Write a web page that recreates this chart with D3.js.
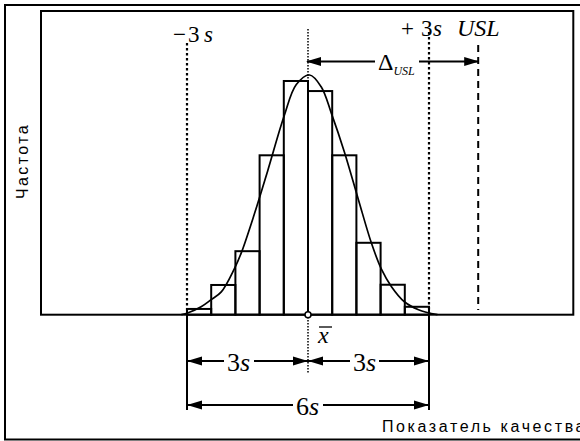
<!DOCTYPE html>
<html>
<head>
<meta charset="utf-8">
<script src="https://cdn.jsdelivr.net/npm/d3@7"></script>
<style>
  body { margin: 0; background: #fff; }
  svg { display: block; }
</style>
</head>
<body>
<div id="chart"></div>
<script>
// Histogram bins (in units of s from the mean) and frequencies
var binStart = [-3, -2.4, -1.8, -1.2, -0.6, 0, 0.6, 1.2, 1.8, 2.4];
var binWidth = 0.6;
var freq = [2.4, 12.4, 26.5, 66.5, 97.5, 93.3, 66.5, 30, 12.5, 3.3];

// Fitted curve
var curveX = [-3.14, -2.97, -2.65, -2.4, -2.15, -1.83, -1.65, -1.33, -1.0, -0.59, -0.29, 0.04, 0.33, 0.58, 0.9, 1.25, 1.57, 1.82, 2.07, 2.39, 2.74, 3.21];
var curveY = [0, 0.8, 3.3, 6.3, 9.5, 19, 26, 42, 60, 83, 96, 100, 95, 84, 68, 48, 30, 19, 11.7, 5.4, 2.1, 0];

// Reference lines
var lowerLimit = -3, mean = 0, upperLimit = 3, usl = 4.22;

var width = 580, height = 441;

var svg = d3.select("#chart")
    .append("svg")
    .attr("width", width)
    .attr("height", height);

var x = d3.scaleLinear().domain([-3, 3]).range([187, 429]);
var y = d3.scaleLinear().domain([0, 100]).range([314.7, 75]);

var ink = "#000";

// outer frame
svg.append("rect")
    .attr("x", 5).attr("y", 5)
    .attr("width", 580).attr("height", 434.5)
    .attr("fill", "none").attr("stroke", ink).attr("stroke-width", 2);

// inner plot box
svg.append("rect")
    .attr("x", 41).attr("y", 11)
    .attr("width", 532.3).attr("height", y(0) - 11)
    .attr("fill", "none").attr("stroke", ink).attr("stroke-width", 2);

// histogram bars
svg.selectAll("rect.bar")
    .data(freq)
    .enter()
    .append("rect")
    .attr("class", "bar")
    .attr("x", (d, i) => x(binStart[i]))
    .attr("y", d => y(d))
    .attr("width", x(binWidth) - x(0))
    .attr("height", d => y(0) - y(d))
    .attr("fill", "none")
    .attr("stroke", ink)
    .attr("stroke-width", 2);

// curve
var line = d3.line()
    .x((d, i) => x(curveX[i]))
    .y(d => y(d))
    .curve(d3.curveCatmullRom);

svg.append("path")
    .attr("d", line(curveY))
    .attr("fill", "none")
    .attr("stroke", ink)
    .attr("stroke-width", 1.7);

// vertical reference lines
function vline(xv, y1, y2, dash, w) {
    svg.append("line")
        .attr("x1", x(xv)).attr("x2", x(xv))
        .attr("y1", y1).attr("y2", y2)
        .attr("stroke", ink)
        .attr("stroke-width", w)
        .attr("stroke-dasharray", dash);
}
vline(lowerLimit, 43, y(0), "2.5,2.5", 2.2);
vline(upperLimit, 32, y(0), "2.5,2.5", 2.2);
vline(mean, 29, 373, "1.5,1.5", 1.5);
vline(usl, 45, 310, "7,5", 2);

// dimension lines below the axis
vline(lowerLimit, y(0), 410, null, 2);
vline(upperLimit, y(0), 410, null, 2);

// mean marker
svg.append("circle")
    .attr("cx", x(mean)).attr("cy", y(0)).attr("r", 3)
    .attr("fill", "#fff").attr("stroke", ink).attr("stroke-width", 1.5);

function arrowHead(tx, ty, dir) {
    var L = 15, H = 4.5;
    svg.append("path")
        .attr("d", "M" + tx + "," + ty + "L" + (tx - dir * L) + "," + (ty - H) +
            "L" + (tx - dir * L) + "," + (ty + H) + "Z")
        .attr("fill", ink);
}
function hseg(x1, x2, yy) {
    svg.append("line")
        .attr("x1", x1).attr("x2", x2).attr("y1", yy).attr("y2", yy)
        .attr("stroke", ink).attr("stroke-width", 2);
}

var serif = "Liberation Serif, Times New Roman, serif";

function txt(tx, ty, size, s, italic) {
    return svg.append("text")
        .attr("x", tx).attr("y", ty)
        .attr("font-family", serif)
        .attr("font-size", size)
        .attr("font-style", italic ? "italic" : "normal")
        .attr("fill", ink)
        .text(s);
}

// top labels
txt(173, 42, 23, "\u2212", false);
txt(188, 42, 23, "3", false);
txt(204, 42, 23, "s", true);
txt(401, 36, 23, "+", false);
txt(421, 36, 23, "3", false);
txt(433, 36, 23, "s", true);
txt(457, 36, 24, "USL", true);

// Delta USL arrow
var dy = 61.5;
hseg(x(mean) - 1, 375, dy);
hseg(419, x(usl), dy);
arrowHead(x(mean) - 2, dy, -1);
arrowHead(x(usl) + 1, dy, 1);
var dl = txt(378, 70, 24, "\u0394", false);
var dw = dl.node().getBBox().width;
txt(378 + dw, 75, 12, "USL", true);

// 3s arrows
var ay = 361;
txt(227, 371, 26, "3", false);
txt(240, 371, 26, "s", true);
hseg(x(lowerLimit), 224, ay);
hseg(254, x(mean), ay);
arrowHead(x(lowerLimit), ay, -1);
arrowHead(x(mean), ay, 1);

txt(353, 371, 26, "3", false);
txt(366, 371, 26, "s", true);
hseg(x(mean), 350, ay);
hseg(379, x(upperLimit), ay);
arrowHead(x(mean), ay, -1);
arrowHead(x(upperLimit), ay, 1);

// 6s arrow
var by = 405;
txt(296, 415, 26, "6", false);
txt(309, 415, 26, "s", true);
hseg(x(lowerLimit), 293, by);
hseg(323, x(upperLimit), by);
arrowHead(x(lowerLimit), by, -1);
arrowHead(x(upperLimit), by, 1);

// x-bar label
txt(318, 343, 24, "x", true);
svg.append("line")
    .attr("x1", 319).attr("x2", 332).attr("y1", 327).attr("y2", 327)
    .attr("stroke", ink).attr("stroke-width", 1.3);

// axis titles
svg.append("text")
    .attr("transform", "translate(28,161) rotate(-90)")
    .attr("text-anchor", "middle")
    .attr("font-family", "Liberation Sans, Arial, sans-serif")
    .attr("font-size", 16)
    .attr("letter-spacing", 2.4)
    .text("Частота");

// runs past the right edge, as in the reference
svg.append("text")
    .attr("x", 382).attr("y", 432)
    .attr("font-family", "Liberation Sans, Arial, sans-serif")
    .attr("font-size", 16)
    .attr("letter-spacing", 2.6)
    .text("Показатель качества");
</script>
</body>
</html>
